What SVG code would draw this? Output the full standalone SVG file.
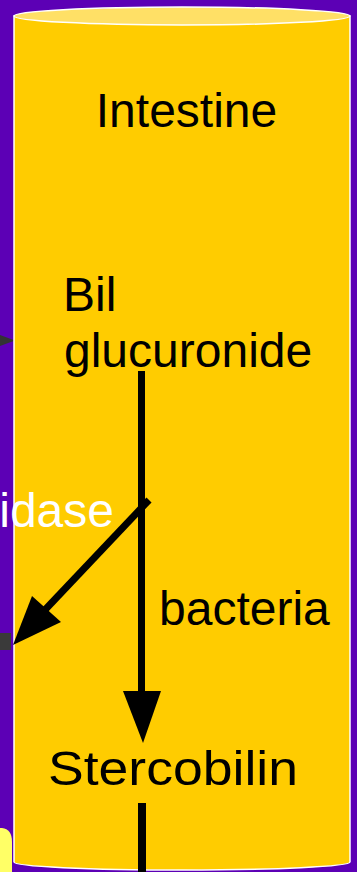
<svg xmlns="http://www.w3.org/2000/svg" width="357" height="872" viewBox="0 0 357 872">
<style>
.lbl{font-family:"Liberation Sans",Arial,sans-serif;font-size:48px;fill:#000}
.wlbl{font-family:"Liberation Sans",Arial,sans-serif;font-size:48px;fill:#fff}
.conn{stroke:#000;stroke-width:7;fill:none}
.head{fill:#000}
</style>
<rect x="0" y="0" width="357" height="872" fill="#5C00B5"/>
<g id="offpage-left">
<polygon points="0,335 15,340.5 0,346" fill="#333333"/>
<rect x="0" y="633" width="11" height="17" fill="#3a3a3a"/>
<path d="M0,828 L2,828 Q12,829 12,842 L12,872 L0,872 Z" fill="#FFFF66"/>
</g>
<g id="intestine">
<path d="M14,16 L14,862 A168,8 0 0 0 350,862 L350,16 Z" fill="#FFCC00" stroke="#fff" stroke-width="1.5"/>
<ellipse cx="182" cy="16" rx="168" ry="9" fill="#FFE066" stroke="#fff" stroke-width="1.5"/>
<text class="lbl" x="186.5" y="127" text-anchor="middle">Intestine</text>
</g>
<g id="bil-glucuronide">
<text class="lbl" x="63" y="311">Bil</text>
<text class="lbl" x="64" y="367">glucuronide</text>
</g>
<g id="enzyme-label">
<text class="wlbl" x="114" y="527" text-anchor="end">idase</text>
</g>
<g id="bacteria-label">
<text class="lbl" x="159" y="625">bacteria</text>
</g>
<g id="stercobilin">
<text class="lbl" x="48" y="785" textLength="250" lengthAdjust="spacingAndGlyphs">Stercobilin</text>
</g>
<g id="connectors">
<line class="conn" x1="141.5" y1="371" x2="141.5" y2="695"/>
<polygon class="head" points="123,691 161,691 143,743"/>
<line class="conn" x1="149" y1="500" x2="42" y2="613"/>
<polygon class="head" points="13,645 32,596 61,622"/>
<line class="conn" x1="142" y1="803" x2="142" y2="872" style="stroke-width:8"/>
</g>
</svg>
